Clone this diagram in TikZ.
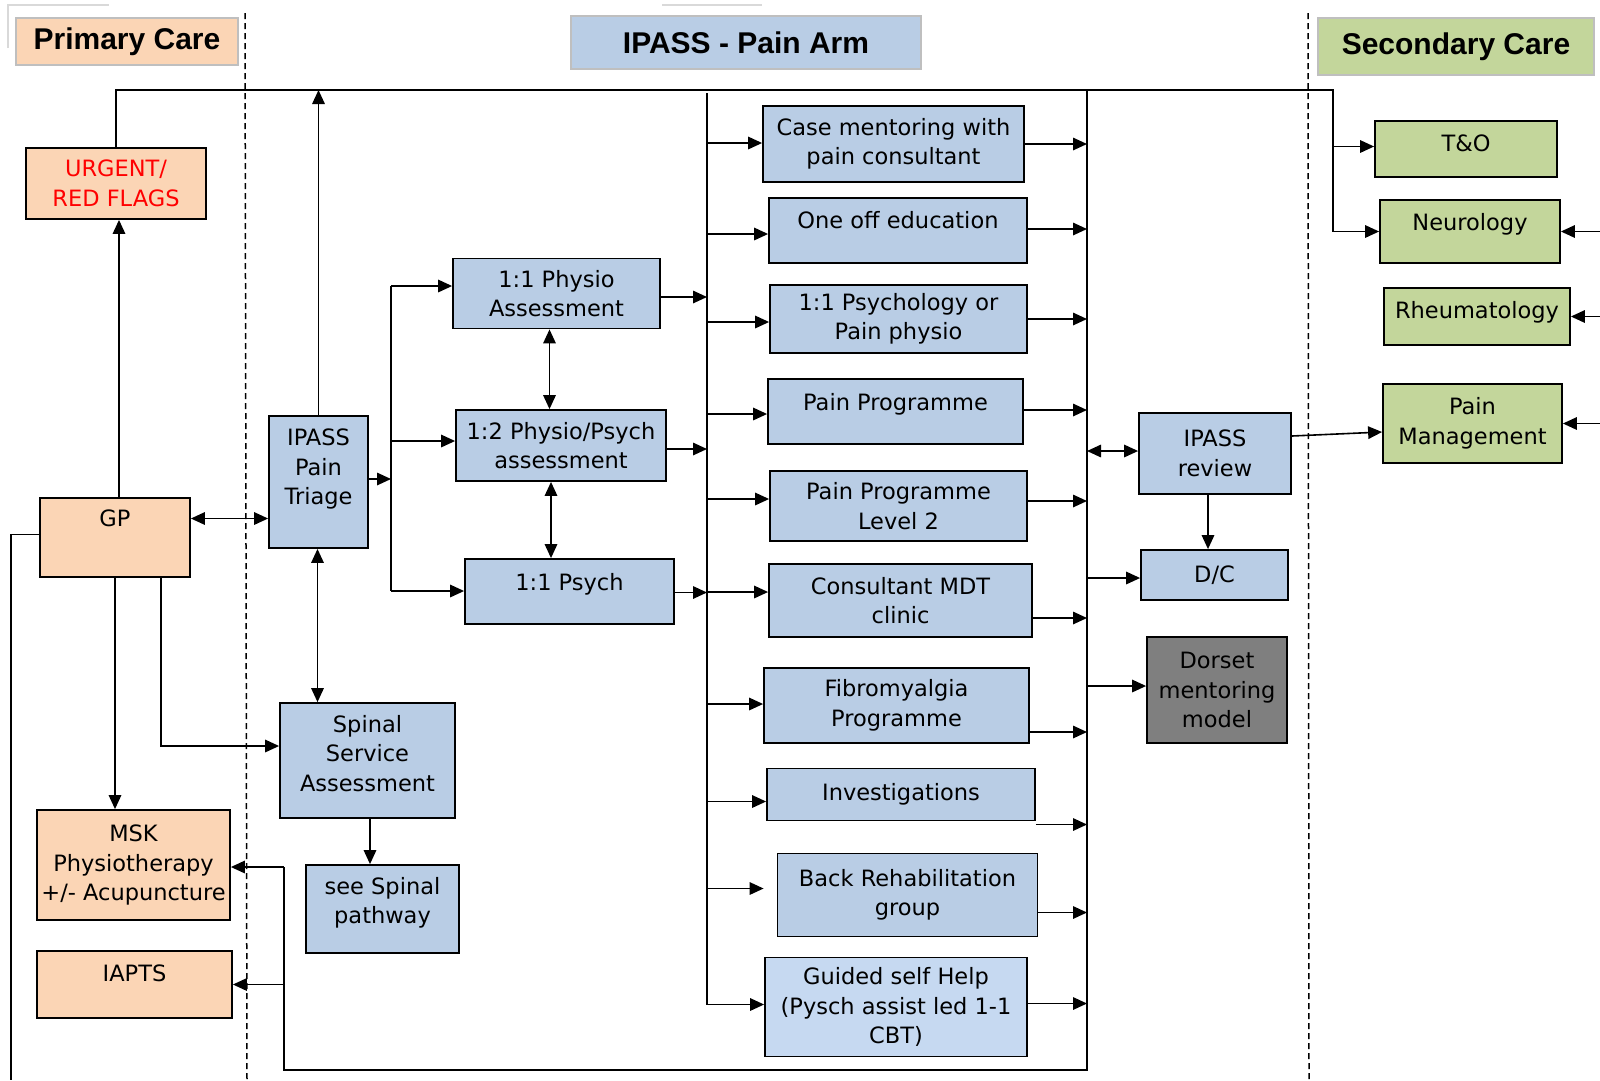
\documentclass[tikz,border=0pt]{standalone}
\usepackage{fontspec}
\usepackage{tikz}
\usetikzlibrary{arrows.meta,positioning}

\newfontfamily\boxfont{DejaVu Sans}
\newfontfamily\hdrfont{Liberation Sans}
\definecolor{peach}{RGB}{251,213,181}
\definecolor{paleblue}{RGB}{185,205,229}
\definecolor{paleblue2}{RGB}{198,217,241}
\definecolor{sgreen}{RGB}{195,214,155}
\definecolor{darkgrey}{RGB}{127,127,127}
\definecolor{hdrline}{RGB}{191,191,191}
\definecolor{faint}{RGB}{217,217,217}

\tikzset{
  box/.style = {draw, line width=1.8pt, shape=rectangle, inner sep=0pt, align=center, font={\boxfont\fontsize{22.5}{29.5}\selectfont}},
  pbox/.style = {box, fill=peach},
  bbox/.style = {box, fill=paleblue},
  gbox/.style = {box, fill=sgreen},
  hdr/.style = {draw=hdrline, line width=2pt, inner sep=0pt, font={\hdrfont\bfseries\fontsize{30}{36}\selectfont}},
  conn/.style = {line width=1.6pt},
  arr/.style = {conn, -{Triangle[length=14pt,width=12.5pt]}},
  darr/.style = {conn, {Triangle[length=14pt,width=12.5pt]}-{Triangle[length=14pt,width=12.5pt]}},
  zone/.style = {line width=1.5pt, dash pattern=on 6pt off 4pt}
}

\begin{document}
\begin{tikzpicture}[x=1pt, y=-1pt]
\useasboundingbox (0,0) rectangle (1600,1080);

\draw[faint, line width=2pt] (8,48) -- (8,5) -- (109,5);
\draw[faint, line width=2pt] (662,5) -- (762,5);
\draw[zone] (245,13) -- (247,1080);
\draw[zone] (1308,13) -- (1309,1080);

\node[hdr, fill=peach, minimum width=222pt, minimum height=47pt] (pc) at (127,41.5) {Primary Care};
\node[hdr, fill=paleblue, minimum width=350pt, minimum height=53pt] (arm) at (746,42.5) {IPASS - Pain Arm};
\node[hdr, fill=sgreen, minimum width=276pt, minimum height=57pt] (sc) at (1456,46.5) {Secondary Care};

\node[pbox, text=red, minimum width=180pt, minimum height=71pt] (urgent) at (116,183.5) {URGENT/\\RED FLAGS};
\node[pbox, minimum width=150pt, minimum height=79pt, text depth=38pt] (gp) at (115,537.5) {GP};
\node[pbox, minimum width=193pt, minimum height=110pt] (msk) at (133.5,865) {MSK\\Physiotherapy\\+/- Acupuncture};
\node[pbox, minimum width=195pt, minimum height=67pt, text depth=22pt] (iapts) at (134.5,984.5) {IAPTS};

\node[bbox, minimum width=99pt, minimum height=132pt] (triage) at (318.5,482) {IPASS\\Pain\\Triage\\[-8pt]\strut};
\node[bbox, minimum width=175pt, minimum height=115pt] (spinal) at (367.5,760.5) {Spinal\\Service\\Assessment\\[-24pt]\strut};
\node[bbox, minimum width=153pt, minimum height=88pt] (seespinal) at (382.5,909) {see Spinal\\pathway\\[-21pt]\strut};
\node[bbox, minimum width=207pt, minimum height=70pt] (phys11) at (556.5,293.5) {1:1 Physio\\Assessment};
\node[bbox, minimum width=210pt, minimum height=71pt] (phys12) at (561,445.5) {1:2 Physio/Psych\\assessment};
\node[bbox, minimum width=209pt, minimum height=65pt, text depth=20pt] (psych11) at (569.5,591.5) {1:1 Psych};

\node[bbox, minimum width=261pt, minimum height=76pt] (casement) at (893.5,144) {Case mentoring with\\pain consultant};
\node[bbox, minimum width=258pt, minimum height=65pt, text depth=22pt] (oneoff) at (898,230.5) {One off education};
\node[bbox, minimum width=257pt, minimum height=68pt] (psy11) at (898.5,319) {1:1 Psychology or\\Pain physio};
\node[bbox, minimum width=255pt, minimum height=65pt, text depth=20pt] (painprog) at (895.5,411.5) {Pain Programme};
\node[bbox, minimum width=257pt, minimum height=70pt] (painprog2) at (898.5,506) {Pain Programme\\Level 2};
\node[bbox, minimum width=263pt, minimum height=73pt] (mdt) at (900.5,600.5) {Consultant MDT\\clinic};
\node[bbox, minimum width=265pt, minimum height=75pt] (fibro) at (896.5,705.5) {Fibromyalgia\\Programme};
\node[bbox, minimum width=268pt, minimum height=52pt] (invest) at (901,794.5) {Investigations};
\node[bbox, minimum width=260pt, minimum height=83pt] (backrehab) at (907.5,895) {Back Rehabilitation\\group};
\node[bbox, fill=paleblue2, minimum width=262pt, minimum height=99pt] (guided) at (896,1007) {Guided self Help\\(Pysch assist led 1-1\\CBT)};

\node[bbox, minimum width=152pt, minimum height=81pt] (review) at (1215,453.5) {IPASS\\review};
\node[bbox, minimum width=147pt, minimum height=50pt] (dc) at (1214.5,575) {D/C};
\node[box, fill=darkgrey, minimum width=140pt, minimum height=106pt] (dorset) at (1217,690) {Dorset\\mentoring\\model};

\node[gbox, minimum width=182pt, minimum height=56pt, text depth=12pt] (tando) at (1466,149) {T\&O};
\node[gbox, minimum width=180pt, minimum height=63pt, text depth=20pt] (neuro) at (1470,231.5) {Neurology};
\node[gbox, minimum width=186pt, minimum height=57pt, text depth=14pt] (rheum) at (1477,316.5) {Rheumatology};
\node[gbox, minimum width=179pt, minimum height=79pt] (painmgmt) at (1472.5,423.5) {Pain\\Management};

\coordinate (topr) at (1333,90);
\coordinate (lbus) at (707,93);
\coordinate (rbus) at (1087,90);
\coordinate (rbusend) at (1087,1070);
\coordinate (brch) at (391,286);
\coordinate (brchend) at (391,591);
\coordinate (back) at (284,867);
\coordinate (gpout) at (11,1080);
\coordinate (redge) at (1600,0);

% primary care side
\draw[arr] (urgent.north) |- (topr) |- (neuro.west);
\draw[arr] ([xshift=4]gp.north) -- ([xshift=4]gp.north |- urgent.south);
\draw[darr] ([yshift=19]gp.east) -- ([yshift=19]gp.east -| triage.west);
\draw[arr] (gp.south) -- (gp.south |- msk.north);
\draw[arr] ([xshift=46]gp.south) |- ([yshift=14.5]spinal.west);
\draw[conn] ([yshift=3]gp.west) -| (gpout);
\draw[arr] (back) -- (back -| msk.east);
\draw[arr] (back |- iapts.east) -- (iapts.east);

% triage
\draw[arr] (triage.north) -- (triage.north |- topr);
\draw[darr] ([xshift=-1]triage.south) -- ([xshift=-1]triage.south |- spinal.north);
\draw[arr] ([xshift=2.5]spinal.south) -- ([xshift=2.5]spinal.south |- seespinal.north);
\draw[arr] ([yshift=3]triage.east) -- ([yshift=3]triage.east -| brch);
\draw[conn] (brch) -- (brchend);
\draw[arr] (brch) -- (brch -| phys11.west);
\draw[arr] ([yshift=4.5]phys12.west -| brch) -- ([yshift=4.5]phys12.west);
\draw[arr] (brchend) -- (brchend -| psych11.west);
\draw[darr] ([xshift=-7]phys11.south) -- ([xshift=-7]phys11.south |- phys12.north);
\draw[darr] ([xshift=-10]phys12.south) -- ([xshift=-10]phys12.south |- psych11.north);
\foreach \n/\d in {phys11/-3.5, phys12/-3.5, psych11/-1}
  \draw[arr] ([yshift=\d]\n.east) -- ([yshift=\d]\n.east -| lbus);

% pain arm buses
\draw[arr] (lbus) |- ([yshift=2.5]guided.west);
\foreach \n/\d in {casement/1, oneoff/-3.5, psy11/-3, painprog/-2.5, painprog2/7, mdt/8.5, fibro/1.5, invest/-7}
  \draw[arr] ([yshift=\d]\n.west -| lbus) -- ([yshift=\d]\n.west);
\draw[arr, shorten >=13pt] ([yshift=6.5]backrehab.west -| lbus) -- ([yshift=6.5]backrehab.west);
\draw[conn] (rbus) -- (rbusend) -| (back);
\foreach \n/\d in {casement/0, oneoff/1.5, psy11/0, painprog/1.5, painprog2/5, mdt/-17.5, fibro/-26.5, invest/-30, backrehab/-17.5, guided/3.5}
  \draw[arr] ([yshift=\d]\n.east) -- ([yshift=\d]\n.east -| rbus);

% review and secondary care
\draw[darr] ([yshift=2.5]review.west -| rbus) -- ([yshift=2.5]review.west);
\draw[arr] ([yshift=-3]dc.west -| rbus) -- ([yshift=-3]dc.west);
\draw[arr] ([yshift=4]dorset.west -| rbus) -- ([yshift=4]dorset.west);
\draw[arr] ([xshift=-7]review.south) -- ([xshift=-7]review.south |- dc.north);
\draw[arr] ([yshift=17.5]review.east) -- ([yshift=-8.5]painmgmt.west);
\draw[arr] ([yshift=2.5]tando.west -| topr) -- ([yshift=2.5]tando.west);
\foreach \n in {neuro, rheum, painmgmt}
  \draw[arr] (\n.east -| redge) -- (\n.east);
\end{tikzpicture}
\end{document}
